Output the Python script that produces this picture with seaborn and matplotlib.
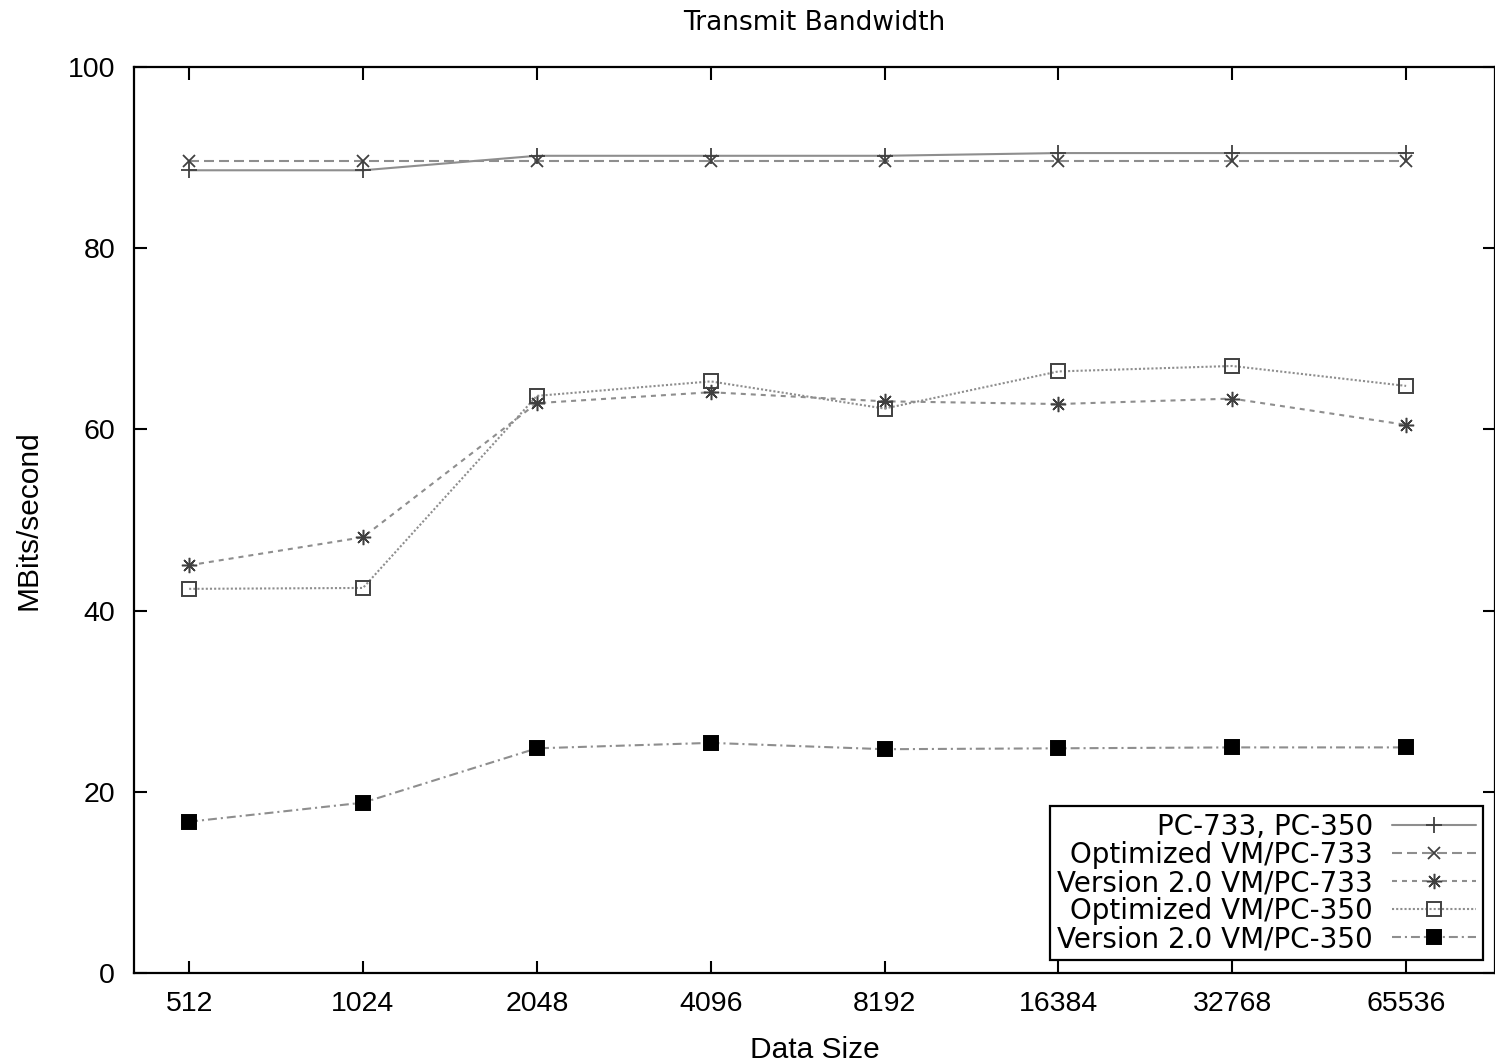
import matplotlib
matplotlib.use("Agg")
import matplotlib.pyplot as plt
import seaborn as sns

# data sizes (bytes) on the x axis
sizes = [512, 1024, 2048, 4096, 8192, 16384, 32768, 65536]
size_labels = ["512", "1024", "2048", "4096", "8192", "16384", "32768", "65536"]

# bandwidth in MBits/second
pc_733_350 = [88.6, 88.6, 90.2, 90.2, 90.2, 90.5, 90.5, 90.5]
opt_vm_733 = [89.6, 89.6, 89.6, 89.6, 89.6, 89.6, 89.6, 89.6]
v20_vm_733 = [45.0, 48.1, 62.9, 64.1, 63.1, 62.8, 63.4, 60.5]
opt_vm_350 = [42.4, 42.5, 63.7, 65.3, 62.3, 66.4, 67.0, 64.8]
v20_vm_350 = [16.7, 18.8, 24.8, 25.4, 24.7, 24.8, 24.9, 24.9]

y_ticks = [0, 20, 40, 60, 80, 100]

line_gray = "#8e8e8e"
mark_gray = "#404040"

series = [
    ("PC-733, PC-350", pc_733_350,
     dict(marker="+", markersize=12, linestyle="-", mfc="none", mew=1.3)),
    ("Optimized VM/PC-733", opt_vm_733,
     dict(marker="x", markersize=9, linestyle=(0, (4.8, 2.4)), mfc="none", mew=1.3)),
    ("Version 2.0 VM/PC-733", v20_vm_733,
     dict(marker=(8, 2, 0), markersize=11, linestyle=(0, (2.4, 2.4)), mfc="none", mew=1.1)),
    ("Optimized VM/PC-350", opt_vm_350,
     dict(marker="s", markersize=10, linestyle=(0, (1.0, 1.0)), mfc="none", mew=1.4)),
    ("Version 2.0 VM/PC-350", v20_vm_350,
     dict(marker="s", markersize=10, linestyle=(0, (4.3, 1.9, 1.0, 1.9)), mfc="black", mew=1.4)),
]

sns.set_style("ticks")
plt.rcParams["font.family"] = ["Liberation Sans", "DejaVu Sans"]
plt.rcParams["text.color"] = "black"
plt.rcParams["axes.labelcolor"] = "black"

fig = plt.figure(figsize=(14.95, 10.62), dpi=100)
ax = fig.add_axes([134 / 1495, 89 / 1062, 1361 / 1495, 906 / 1062])

for label, values, style in series:
    sns.lineplot(x=sizes, y=values, ax=ax, label=label, color=line_gray,
                 linewidth=1.5, mec=mark_gray if style["mfc"] == "none" else "black",
                 **style)

ax.set_xscale("log", base=2)
ax.set_xlim(411, 93400)
ax.set_ylim(0, 100)
ax.set_xticks(sizes)
ax.set_xticklabels(size_labels)
ax.xaxis.set_minor_locator(matplotlib.ticker.NullLocator())
ax.set_yticks(y_ticks)

ax.tick_params(axis="both", which="major", direction="in", top=True, right=True,
               length=9, width=1.5, labelsize=20.5, colors="black")
ax.tick_params(axis="x", pad=13)
ax.tick_params(axis="y", pad=13.5)
for side in ["left", "right", "top", "bottom"]:
    ax.spines[side].set_visible(True)
    ax.spines[side].set_linewidth(1.6)
    ax.spines[side].set_color("black")

ax.set_xlabel("Data Size", fontsize=21.5, labelpad=14)
ax.set_ylabel("MBits/second", fontsize=21.5, labelpad=18.5)
ax.set_title("Transmit Bandwidth", fontsize=19, family="DejaVu Sans", pad=27)

handles, labels = ax.get_legend_handles_labels()
leg = ax.legend(handles, labels, loc="lower right", bbox_to_anchor=(0.991, 0.0143),
                borderaxespad=0, markerfirst=False, fancybox=False, framealpha=1,
                edgecolor="black", handlelength=3.0, handletextpad=0.7,
                labelspacing=0.0, borderpad=0.25,
                prop={"family": "DejaVu Sans", "size": 20})
leg.get_frame().set_linewidth(1.6)

fig.savefig("out.png", dpi=100)
